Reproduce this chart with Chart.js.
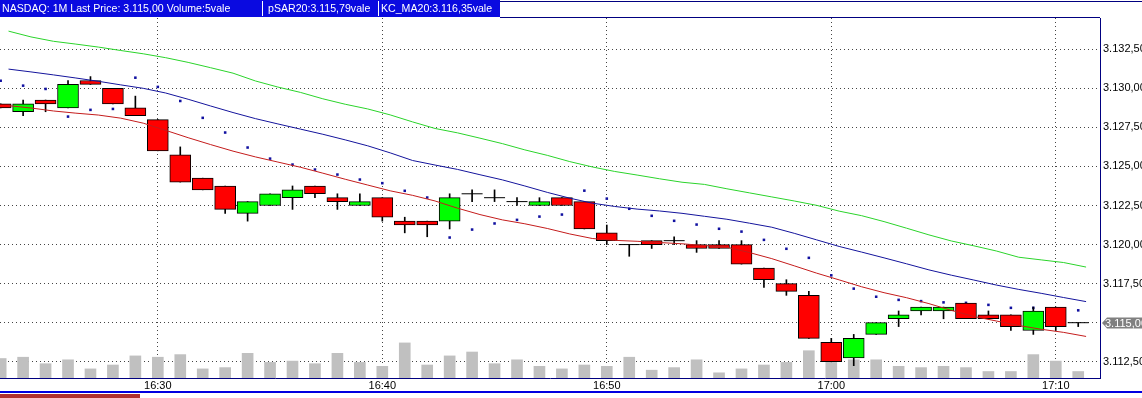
<!DOCTYPE html>
<html><head><meta charset="utf-8">
<script src="https://cdn.jsdelivr.net/npm/chart.js@4.4.0/dist/chart.umd.min.js"></script>
<style>
html,body{margin:0;padding:0;background:#fff;}
#wrap{position:relative;width:1142px;height:398px;overflow:hidden;font-family:"Liberation Sans",Arial,sans-serif;}
#c{position:absolute;left:0;top:0;}
#hdr{position:absolute;left:0;top:0;width:500px;height:17px;background:#0a0ae0;}
.seg{position:absolute;top:2px;color:#fff;font-size:10.6px;white-space:nowrap;line-height:13px;}
.sep{position:absolute;top:1px;width:1px;height:15px;background:#fff;}
#topline{position:absolute;left:500px;top:1px;width:642px;height:1px;background:#000080;}
#plottop{position:absolute;left:500px;top:17px;width:600px;height:1px;background:#000080;}
#bluebar{position:absolute;left:0;top:391px;width:1142px;height:2px;background:#0000e0;}
#redbar{position:absolute;left:0;top:394px;width:140px;height:4px;background:#b03030;}
</style></head>
<body>
<div id="wrap">
<canvas id="c" width="1142" height="398"></canvas>
<div id="hdr">
  <span class="seg" style="left:2px">NASDAQ: 1M Last Price: 3.115,00 Volume:5vale</span>
  <span class="sep" style="left:262px"></span>
  <span class="seg" style="left:268px">pSAR20:3.115,79vale</span>
  <span class="sep" style="left:378px"></span>
  <span class="seg" style="left:381px">KC_MA20:3.116,35vale</span>
</div>
<div id="topline"></div>
<div id="plottop"></div>
<div id="bluebar"></div>
<div id="redbar"></div>
</div>
<script>
const TIMES = ['16:23','16:24','16:25','16:26','16:27','16:28','16:29','16:30','16:31','16:32',
'16:33','16:34','16:35','16:36','16:37','16:38','16:39','16:40','16:41','16:42',
'16:43','16:44','16:45','16:46','16:47','16:48','16:49','16:50','16:51','16:52',
'16:53','16:54','16:55','16:56','16:57','16:58','16:59','17:00','17:01','17:02',
'17:03','17:04','17:05','17:06','17:07','17:08','17:09','17:10','17:11'];

const OPEN = [3129, 3128.5, 3129.25, 3128.75, 3130.5, 3130, 3128.75, 3128, 3125.75, 3124.25,
3123.75, 3122, 3122.5, 3123, 3123.75, 3123, 3122.5, 3123, 3121.5, 3121.5,
3121.5, 3123.25, 3123, 3122.75, 3122.5, 3123, 3122.75, 3120.75, 3120, 3120.25,
3120.25, 3120, 3120, 3120, 3118.5, 3117.5, 3116.75, 3113.75, 3112.75, 3114.25,
3115.25, 3115.75, 3115.75, 3116.25, 3115.5, 3115.5, 3114.5, 3116, 3115];

const HIGH = [3129, 3129.25, 3129.25, 3130.5, 3130.75, 3130, 3129.5, 3128, 3126.25, 3124.25,
3123.75, 3122.75, 3123.25, 3123.75, 3123.75, 3123.25, 3123.25, 3123, 3121.75, 3121.5,
3123.25, 3123.5, 3123.5, 3123, 3123, 3123, 3122.75, 3121.25, 3120, 3120.25,
3120.5, 3120.25, 3120.25, 3120.25, 3118.5, 3117.75, 3117, 3114, 3114.25, 3115,
3115.75, 3116, 3116, 3116.25, 3115.75, 3115.5, 3116, 3116, 3115];

const LOW = [3128.75, 3128.25, 3128.5, 3128.75, 3130.25, 3129, 3128.25, 3126, 3124, 3123.5,
3122, 3121.5, 3122.5, 3122.25, 3123, 3122.25, 3122.5, 3121.5, 3120.75, 3120.5,
3121, 3122.75, 3122.75, 3122.5, 3122.5, 3122.5, 3121, 3120, 3119.25, 3119.75,
3120, 3119.5, 3119.75, 3118.75, 3117.25, 3116.75, 3114, 3112.5, 3112.25, 3114.25,
3114.75, 3115.5, 3115.25, 3115.25, 3115.25, 3114.5, 3114.25, 3114.5, 3114.75];

const CLOSE = [3128.75, 3129, 3129, 3130.25, 3130.25, 3129, 3128.25, 3126, 3124, 3123.5,
3122.25, 3122.75, 3123.25, 3123.5, 3123.25, 3122.75, 3122.75, 3121.75, 3121.25, 3121.25,
3123, 3123.25, 3123, 3122.75, 3122.75, 3122.5, 3121, 3120.25, 3120, 3120,
3120.25, 3119.75, 3119.75, 3118.75, 3117.75, 3117, 3114, 3112.5, 3114, 3115,
3115.5, 3116, 3116, 3115.25, 3115.25, 3114.75, 3115.75, 3114.75, 3115];

const VOLUME = [15, 16, 11, 14, 7, 10, 17, 16, 18, 7,
8, 19, 12, 13, 11, 19, 12, 9, 27, 10,
17, 20, 11, 14, 9, 7, 10, 9, 16, 6,
8, 14, 4, 7, 10, 12, 21, 12, 14, 14,
9, 8, 9, 8, 5, 5, 18, 13, 5];

const PSAR = [3130.49, 3130.17, 3129.96, 3128.19, 3128.62, 3128.68, 3130.68, 3130.09, 3129.19, 3128.11,
3127.17, 3126.21, 3125.50, 3125.12, 3124.80, 3124.48, 3124.16, 3123.93, 3123.44, 3123.01,
3120.45, 3120.96, 3121.35, 3121.58, 3121.79, 3121.92, 3123.45, 3122.94, 3122.29, 3121.84,
3121.52, 3121.28, 3121.01, 3120.83, 3120.30, 3119.73, 3119.15, 3118.03, 3117.18, 3116.66,
3116.46, 3116.38, 3116.30, 3116.27, 3116.14, 3115.95, 3115.95, 3115.92, 3115.79];

const KC_UPPER = [3133.66, 3133.29, 3133.01, 3132.83, 3132.64, 3132.42, 3132.21, 3131.96, 3131.66, 3131.32,
3130.97, 3130.47, 3130.08, 3129.74, 3129.33, 3128.98, 3128.68, 3128.30, 3127.85, 3127.43,
3127.15, 3126.81, 3126.46, 3126.06, 3125.71, 3125.31, 3124.97, 3124.68, 3124.45, 3124.21,
3123.99, 3123.85, 3123.57, 3123.31, 3123.05, 3122.79, 3122.51, 3122.14, 3121.85, 3121.47,
3121.05, 3120.62, 3120.23, 3119.92, 3119.59, 3119.19, 3119.02, 3118.85, 3118.56];

const KC_MID = [3131.23, 3131.05, 3130.86, 3130.66, 3130.45, 3130.22, 3130.00, 3129.70, 3129.30, 3128.87,
3128.45, 3128.06, 3127.72, 3127.39, 3127.06, 3126.70, 3126.32, 3125.87, 3125.38, 3125.09,
3124.81, 3124.47, 3124.14, 3123.75, 3123.34, 3122.97, 3122.65, 3122.44, 3122.27, 3122.15,
3122.00, 3121.81, 3121.62, 3121.37, 3121.11, 3120.72, 3120.30, 3119.88, 3119.52, 3119.15,
3118.77, 3118.38, 3118.04, 3117.73, 3117.41, 3117.13, 3116.88, 3116.61, 3116.35];

const KC_LOWER = [3128.89, 3128.74, 3128.55, 3128.41, 3128.29, 3128.09, 3127.77, 3127.31, 3126.84, 3126.40,
3125.98, 3125.61, 3125.28, 3124.95, 3124.57, 3124.18, 3123.81, 3123.44, 3123.15, 3122.79,
3122.33, 3121.92, 3121.58, 3121.33, 3121.03, 3120.68, 3120.39, 3120.27, 3120.21, 3120.13,
3120.05, 3119.94, 3119.83, 3119.49, 3119.10, 3118.64, 3118.17, 3117.74, 3117.30, 3116.92,
3116.60, 3116.22, 3115.79, 3115.40, 3115.11, 3114.82, 3114.58, 3114.38, 3114.12];

const X_TICK_LABELS = ['16:30', '16:40', '16:50', '17:00', '17:10'];
const Y_TICKS = [3112.5, 3115, 3117.5, 3120, 3122.5, 3125, 3127.5, 3130, 3132.5];

// view / style settings
const X_MIN = -0.03, X_MAX = 48.97;
const Y_MIN = 3111.46, Y_MAX = 3134.5;
const VOL_MAX = 277;
const KC_SHIFT = 0.35;
const FONT = {family: '"Liberation Sans", Arial, sans-serif', size: 11};
const NAVY = '#000080';
const GRID = '#444444';

function fmtPrice(v) {
  const s = Number(v).toFixed(2).replace('.', ',');
  return s.replace(/^(\d)(\d{3})/, '$1.$2');
}

const idx = TIMES.map((t, i) => i);
const isDoji = i => OPEN[i] === CLOSE[i];
const bodyIdx = idx.filter(i => !isDoji(i));
const lastClose = CLOSE[CLOSE.length - 1];

const lastTag = {
  id: 'lastTag',
  afterDraw(chart) {
    const ctx = chart.ctx;
    const y = Math.round(chart.scales.y.getPixelForValue(lastClose));
    const x0 = chart.chartArea.right + 2;
    ctx.save();
    ctx.fillStyle = '#808080';
    ctx.beginPath();
    ctx.moveTo(x0, y);
    ctx.lineTo(x0 + 5, y - 5.5);
    ctx.lineTo(1142, y - 5.5);
    ctx.lineTo(1142, y + 5.5);
    ctx.lineTo(x0 + 5, y + 5.5);
    ctx.closePath();
    ctx.fill();
    ctx.fillStyle = '#ffffff';
    ctx.font = '11px "Liberation Sans", Arial, sans-serif';
    ctx.textBaseline = 'middle';
    ctx.textAlign = 'left';
    ctx.fillText(fmtPrice(lastClose), x0 + 3, y + 0.5);
    ctx.restore();
  }
};

function noPad(s) { s.paddingLeft = 0; s.paddingRight = 0; s.paddingTop = 0; s.paddingBottom = 0; }

new Chart(document.getElementById('c'), {
  type: 'bar',
  data: {
    datasets: [
      {
        type: 'line', label: 'KC upper', order: 0,
        data: idx.map(i => ({x: i + KC_SHIFT, y: KC_UPPER[i]})),
        borderColor: '#2bd42b', borderWidth: 1, pointRadius: 0, tension: 0, fill: false
      },
      {
        type: 'line', label: 'KC_MA20', order: 0,
        data: idx.map(i => ({x: i + KC_SHIFT, y: KC_MID[i]})),
        borderColor: '#14149c', borderWidth: 1, pointRadius: 0, tension: 0, fill: false
      },
      {
        type: 'line', label: 'KC lower', order: 0,
        data: idx.map(i => ({x: i + KC_SHIFT, y: KC_LOWER[i]})),
        borderColor: '#c41c1c', borderWidth: 1, pointRadius: 0, tension: 0, fill: false
      },
      {
        type: 'line', label: 'doji', order: 1, showLine: false,
        data: idx.filter(isDoji).map(i => ({x: i, y: OPEN[i]})),
        pointStyle: 'line', pointRadius: 10.5, borderColor: '#000000', borderWidth: 1,
        pointHoverRadius: 10.5
      },
      {
        label: 'body', order: 2, grouped: false,
        data: bodyIdx.map(i => ({x: i, y: [Math.min(OPEN[i], CLOSE[i]), Math.max(OPEN[i], CLOSE[i])]})),
        backgroundColor: bodyIdx.map(i => CLOSE[i] > OPEN[i] ? '#00ff00' : '#ff0000'),
        borderColor: '#000000', borderWidth: 1, borderSkipped: false, barThickness: 21
      },
      {
        label: 'wick', order: 3, grouped: false,
        data: idx.map(i => ({x: i, y: [LOW[i], HIGH[i]]})),
        backgroundColor: '#000000', borderWidth: 0, barThickness: 1
      },
      {
        type: 'line', label: 'pSAR20', order: 4, showLine: false,
        data: idx.map(i => ({x: i, y: PSAR[i]})),
        pointStyle: 'rect', pointRadius: 1.8, backgroundColor: '#1010a0', borderWidth: 0
      },
      {
        label: 'Volume', order: 5, grouped: false, yAxisID: 'yv',
        data: idx.map(i => ({x: i, y: VOLUME[i]})),
        backgroundColor: '#c0c0c0', borderWidth: 0, barThickness: 11
      }
    ]
  },
  options: {
    responsive: false,
    animation: false,
    events: [],
    layout: {padding: {top: 18, left: 0, right: 0, bottom: 0}, autoPadding: false},
    plugins: {legend: {display: false}, tooltip: {enabled: false}},
    scales: {
      x: {
        type: 'linear', position: 'bottom', min: X_MIN, max: X_MAX,
        offset: false,
        afterBuildTicks: s => { s.ticks = X_TICK_LABELS.map(l => ({value: TIMES.indexOf(l)})); },
        afterFit: s => { s.height = 20; noPad(s); },
        ticks: {
          autoSkip: false, maxRotation: 0, padding: 1, color: '#000000', font: FONT,
          callback: v => TIMES[Math.round(v)]
        },
        grid: {color: GRID, lineWidth: 1, drawTicks: false, offset: false},
        border: {color: NAVY, width: 1, dash: [1, 3]}
      },
      y: {
        type: 'linear', position: 'right', min: Y_MIN, max: Y_MAX,
        afterBuildTicks: s => { s.ticks = Y_TICKS.map(v => ({value: v})); },
        afterFit: s => { s.width = 42; noPad(s); },
        ticks: {
          padding: 3, font: FONT,
          color: c => (c.tick && c.tick.value === lastClose) ? 'rgba(0,0,0,0)' : '#000000',
          callback: v => fmtPrice(v)
        },
        grid: {color: GRID, lineWidth: 1, drawTicks: false},
        border: {color: NAVY, width: 1, dash: [1, 3]}
      },
      yv: {
        type: 'linear', display: false, min: 0, max: VOL_MAX
      }
    }
  },
  plugins: [lastTag]
});
</script>
</body></html>
